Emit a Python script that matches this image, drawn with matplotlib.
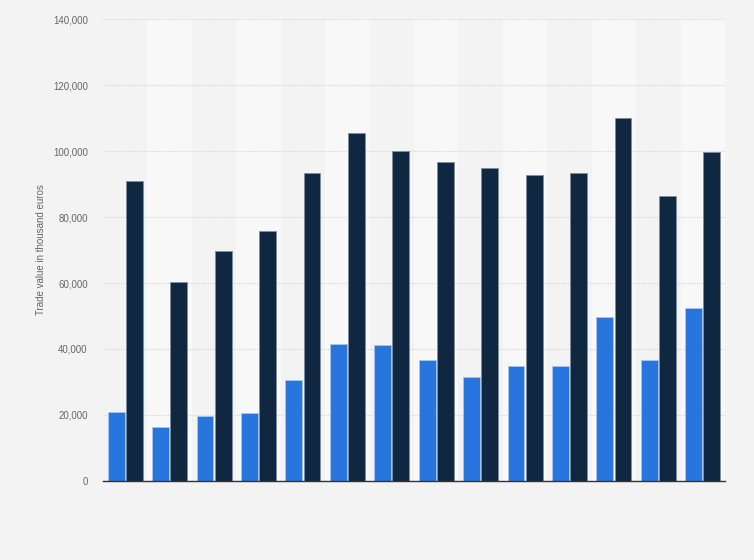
import numpy as np
import matplotlib
matplotlib.use('Agg')
import matplotlib.pyplot as plt
from matplotlib.ticker import FuncFormatter

plt.rcParams['font.family'] = ['Liberation Sans', 'DejaVu Sans']

# values (thousand euros), 14 periods, no x labels shown
groups = list(range(14))
series_a = [20800, 16500, 19600, 20500, 30500, 41400, 41100, 36600,
            31400, 34800, 34800, 49700, 36600, 52400]
series_b = [90900, 60300, 69700, 75800, 93300, 105400, 100100, 96600,
            94800, 92700, 93300, 110000, 86400, 99800]
yticks = [0, 20000, 40000, 60000, 80000, 100000, 120000, 140000]

bg = '#f3f3f3'
band = '#f8f8f8'
blue = '#2876dd'
navy = '#0f2740'

fig = plt.figure(figsize=(7.54, 5.6), dpi=100, facecolor=bg)
ax = fig.add_axes([0.1366, 0.1411, 0.8249, 0.8249])
ax.set_facecolor(bg)

x = np.arange(len(groups))
# alternating column bands
for i in x:
    if i % 2 == 1:
        ax.axvspan(i - 0.5, i + 0.5, color=band, zorder=0, lw=0)

w = 0.38
ax.bar(x - 0.205, series_a, width=w, color=blue, edgecolor='#a9c6ee', linewidth=0.6, zorder=3)
ax.bar(x + 0.205, series_b, width=w, color=navy, edgecolor='#7f8fa0', linewidth=0.6, zorder=3)

ax.set_xlim(-0.5, len(groups) - 0.5)
ax.set_ylim(0, 140000)
ax.set_yticks(yticks)
ax.yaxis.set_major_formatter(FuncFormatter(lambda v, p: '{:,.0f}'.format(v)))
ax.grid(axis='y', linestyle=(0, (1, 1)), color='#d6d6d6', linewidth=0.8, zorder=1)
ax.set_xticks([])
ax.tick_params(axis='y', length=0, labelsize=7, labelcolor='#666666', pad=11)

for s in ['top', 'right', 'left']:
    ax.spines[s].set_visible(False)
ax.spines['bottom'].set_color('#333333')
ax.spines['bottom'].set_linewidth(1.0)
ax.spines['bottom'].set_zorder(4)

ax.set_ylabel('Trade value in thousand euros', fontsize=7, color='#666666', labelpad=5)

plt.savefig('out.png', dpi=100, facecolor=bg)
